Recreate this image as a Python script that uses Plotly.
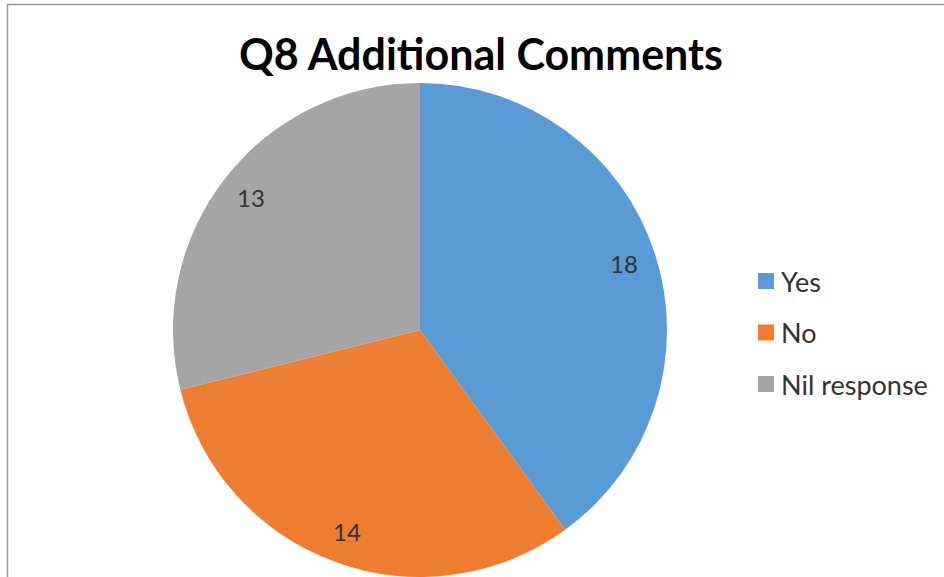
import math
import plotly.graph_objects as go

# Survey responses for Q8
categories = ["Yes", "No", "Nil response"]
counts = [18, 14, 13]
colors = ["#5B9BD5", "#ED7D31", "#A5A5A5"]
title_text = "Q8 Additional Comments"

W, H = 944, 577
FONT = "Lato"
TEXT_COLOR = "#333333"

# Pie placement (pixels)
cx, cy, R = 420, 330, 247


def px_x(x):
    return x / W


def px_y(y):
    return 1 - y / H


fig = go.Figure(
    go.Pie(
        labels=categories,
        values=counts,
        marker=dict(colors=colors, line=dict(width=0)),
        sort=False,
        direction="clockwise",
        rotation=0,
        textinfo="none",
        hoverinfo="label+value",
        showlegend=False,
        domain=dict(x=[px_x(cx - R), px_x(cx + R)], y=[px_y(cy + R), px_y(cy - R)]),
    )
)

annotations = []

# Value labels placed along each slice's mid-angle
total = sum(counts)
start = 0.0
for v in counts:
    mid = start + v / total * 360 / 2
    start += v / total * 360
    t = math.radians(mid)
    lx = cx + 0.87 * R * math.sin(t)
    ly = cy - 0.87 * R * math.cos(t)
    annotations.append(
        dict(
            x=px_x(lx), y=px_y(ly), xref="paper", yref="paper",
            text=str(v), showarrow=False,
            font=dict(family=FONT, size=24, color=TEXT_COLOR),
            xanchor="center", yanchor="middle",
        )
    )

# Title
annotations.append(
    dict(
        x=px_x(481), y=px_y(53), xref="paper", yref="paper",
        text=f"<b>{title_text}</b>", showarrow=False,
        font=dict(family=FONT, size=43, color="#000000"),
        xanchor="center", yanchor="middle",
    )
)

# Legend entries
shapes = []
leg_x, leg_y0, leg_gap, sq = 758, 281, 51.5, 16
for i, (name, col) in enumerate(zip(categories, colors)):
    yc = leg_y0 + i * leg_gap
    shapes.append(
        dict(
            type="rect", xref="paper", yref="paper",
            x0=px_x(leg_x), x1=px_x(leg_x + sq),
            y0=px_y(yc + sq / 2), y1=px_y(yc - sq / 2),
            fillcolor=col, line=dict(width=0),
        )
    )
    annotations.append(
        dict(
            x=px_x(leg_x + sq + 5), y=px_y(yc), xref="paper", yref="paper",
            text=name, showarrow=False,
            font=dict(family=FONT, size=27, color=TEXT_COLOR),
            xanchor="left", yanchor="middle",
        )
    )

# Chart frame
shapes.append(
    dict(
        type="rect", xref="paper", yref="paper",
        x0=px_x(7.5), x1=1.02, y0=-0.02, y1=px_y(4.5),
        line=dict(color="#9A9A9A", width=1.5), fillcolor="rgba(0,0,0,0)",
        layer="above",
    )
)

fig.update_layout(
    width=W, height=H,
    margin=dict(l=0, r=0, t=0, b=0),
    paper_bgcolor="white",
    plot_bgcolor="white",
    annotations=annotations,
    shapes=shapes,
)

fig.write_html("out.html")
